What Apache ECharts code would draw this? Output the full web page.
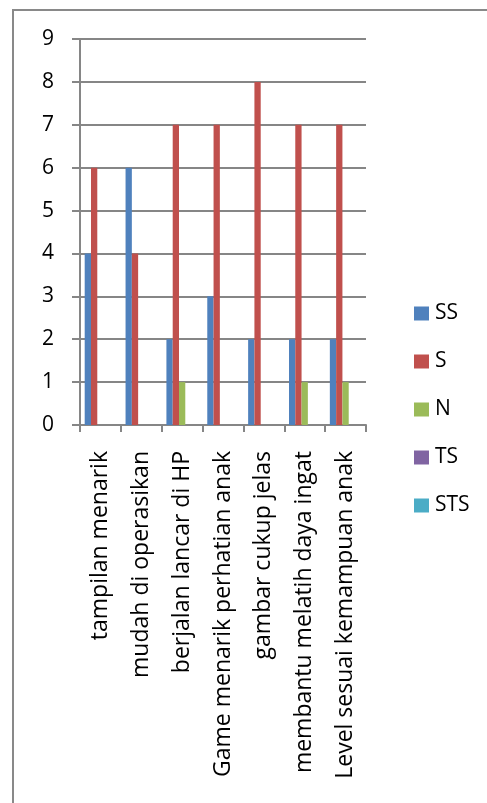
<!DOCTYPE html>
<html>
<head>
<meta charset="utf-8">
<script src="https://cdn.jsdelivr.net/npm/echarts@6/dist/echarts.min.js"></script>
<style>
html,body{margin:0;padding:0;background:#fff;}
#c{width:487px;height:803px;}
</style>
</head>
<body>
<div id="c"></div>
<script>
var categories = ['tampilan menarik','mudah di operasikan','berjalan lancar di HP','Game menarik perhatian anak','gambar cukup jelas','membantu melatih daya ingat','Level sesuai kemampuan anak'];
var seriesNames = ['SS','S','N','TS','STS'];
var ssValues = [4,6,2,3,2,2,2];
var sValues = [6,4,7,7,8,7,7];
var nValues = [0,0,1,0,0,1,1];
var tsValues = [0,0,0,0,0,0,0];
var stsValues = [0,0,0,0,0,0,0];
var yTicks = [0,1,2,3,4,5,6,7,8,9];

var colors = ['#4F81BD','#C0504D','#9BBB59','#8064A2','#4BACC6'];
var FONT = 'Open Sans';
var allValues = [ssValues,sValues,nValues,tsValues,stsValues];

var chart = echarts.init(document.getElementById('c'));
var series = seriesNames.map(function(n,i){
  return {
    name:n, type:'bar', data: allValues[i],
    barGap:'0%', barCategoryGap:'23%',
    itemStyle:{color:colors[i]},
    animation:false
  };
});
chart.setOption({
  animation:false,
  color: colors,
  graphic:[{
    type:'rect', shape:{x:13,y:10,width:520,height:820},
    style:{fill:'none',stroke:'#898989',lineWidth:2}, silent:true
  }],
  grid:{left:80, top:39, width:286, height:386, containLabel:false},
  legend:{
    orient:'vertical', left:409, top:298,
    itemWidth:15, itemHeight:14, itemGap:27,
    icon:'rect',
    textStyle:{fontFamily:FONT, fontSize:21, color:'#000', padding:[0,0,0,1]},
    data: seriesNames
  },
  xAxis:{
    type:'category', data:categories,
    axisLine:{lineStyle:{color:'#868686',width:2}},
    axisTick:{show:true, length:7, lineStyle:{color:'#868686',width:2}},
    axisLabel:{rotate:90, margin:26, fontFamily:FONT, fontSize:23, color:'#000', interval:0}
  },
  yAxis:{
    type:'value', min:0, max:9, interval:1,
    axisLine:{show:true, lineStyle:{color:'#868686',width:2}},
    axisTick:{show:true, length:8, lineStyle:{color:'#868686',width:2}},
    splitLine:{show:true, lineStyle:{color:'#868686',width:2}},
    axisLabel:{margin:26, fontFamily:FONT, fontSize:21, color:'#000',
      formatter:function(v){return yTicks.indexOf(v)>=0?String(v):'';}}
  },
  series: series
});
</script>
</body>
</html>
